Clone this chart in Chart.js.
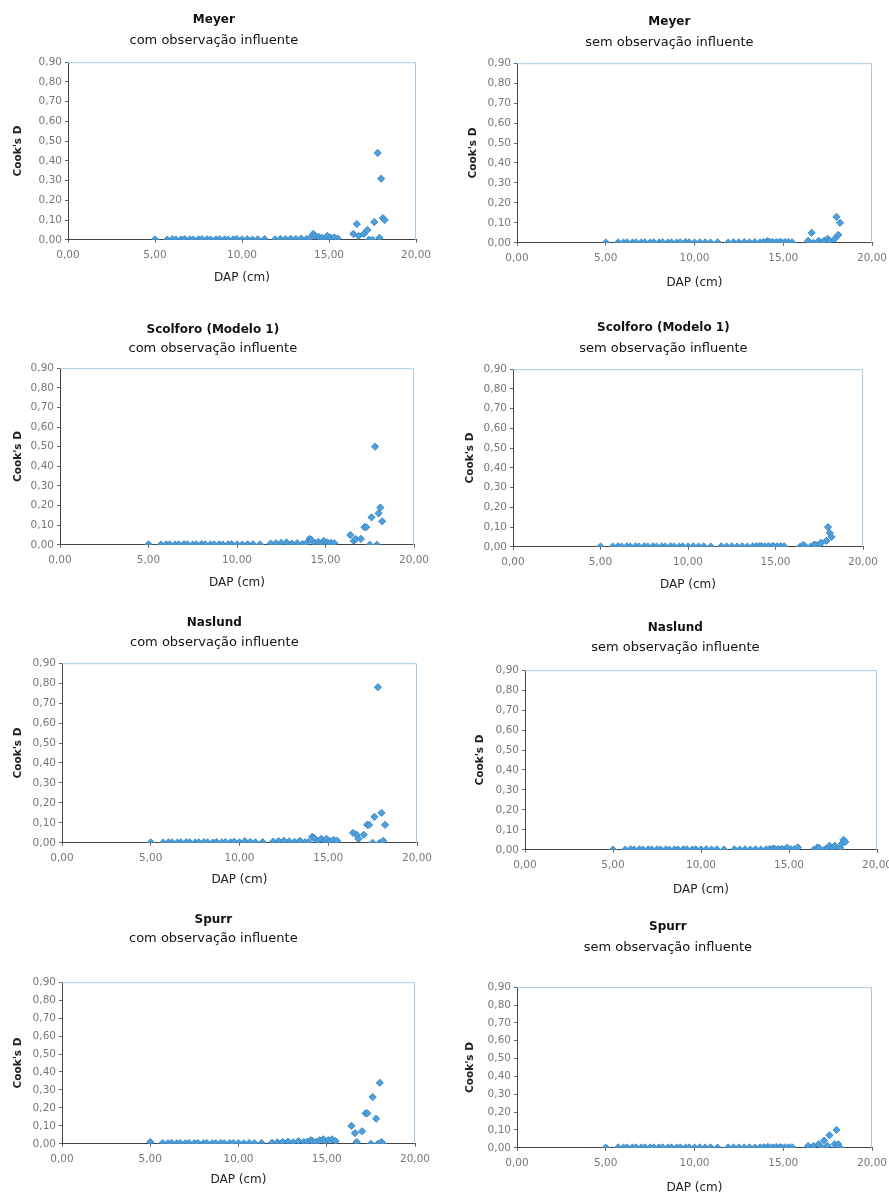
<!DOCTYPE html>
<html>
<head>
<meta charset="utf-8">
<script src="https://cdn.jsdelivr.net/npm/chart.js@4.4.1/dist/chart.umd.min.js"></script>
<style>
  body { margin: 0; background: #fff; width: 889px; height: 1194px; position: relative; overflow: hidden; }
  .panel { position: absolute; }
</style>
</head>
<body>
<div class="panel" id="p0"><canvas id="c0"></canvas></div>
<div class="panel" id="p1"><canvas id="c1"></canvas></div>
<div class="panel" id="p2"><canvas id="c2"></canvas></div>
<div class="panel" id="p3"><canvas id="c3"></canvas></div>
<div class="panel" id="p4"><canvas id="c4"></canvas></div>
<div class="panel" id="p5"><canvas id="c5"></canvas></div>
<div class="panel" id="p6"><canvas id="c6"></canvas></div>
<div class="panel" id="p7"><canvas id="c7"></canvas></div>
<script>
// panel headings
const models = ['Meyer', 'Meyer', 'Scolforo (Modelo 1)', 'Scolforo (Modelo 1)', 'Naslund', 'Naslund', 'Spurr', 'Spurr'];
const subtitles = ['com observação influente', 'sem observação influente', 'com observação influente', 'sem observação influente',
                   'com observação influente', 'sem observação influente', 'com observação influente', 'sem observação influente'];

// tick labels
const xTicks = [0, 5, 10, 15, 20];
const xTickLabels = ['0,00', '5,00', '10,00', '15,00', '20,00'];
const yTickLabels = ['0,00', '0,10', '0,20', '0,30', '0,40', '0,50', '0,60', '0,70', '0,80', '0,90'];

// DAP (cm) of the trees: main body and the large-diameter tail
const bodyDap = [5.0, 5.7, 6.0, 6.2, 6.5, 6.7, 7.0, 7.2, 7.5, 7.7, 8.0, 8.2, 8.5, 8.7, 9.0, 9.2, 9.5, 9.7, 10.0, 10.3,
                 10.6, 10.9, 11.3, 11.9, 12.2, 12.5, 12.8, 13.1, 13.4, 13.7, 13.9, 14.1, 14.2, 14.4, 14.6, 14.8, 14.9, 15.1, 15.3, 15.5];
const tailDap = [16.4, 16.6, 16.7, 17.0, 17.2, 17.3, 17.5, 17.6, 17.8, 17.9, 18.0, 18.1, 18.2];

// Cook's D per model (null = influential observation removed)
const meyerComBody = [0.002, 0.001, 0.002, 0.001, 0.002, 0.003, 0.002, 0.001, 0.002, 0.003, 0.002, 0.001, 0.002, 0.003, 0.002, 0.001, 0.002, 0.004, 0.002, 0.003,
                      0.001, 0.002, 0.003, 0.002, 0.004, 0.003, 0.005, 0.004, 0.006, 0.003, 0.008, 0.030, 0.020, 0.015, 0.010, 0.005, 0.020, 0.010, 0.012, 0.006];
const meyerComTail = [0.03, 0.08, 0.02, 0.03, 0.05, 0.00, 0.00, 0.09, 0.44, 0.01, 0.31, 0.11, 0.10];
const meyerSemBody = [0.001, 0.002, 0.001, 0.002, 0.001, 0.002, 0.001, 0.002, 0.001, 0.002, 0.001, 0.002, 0.001, 0.002, 0.001, 0.002, 0.003, 0.002, 0.001, 0.002,
                      0.002, 0.001, 0.002, 0.001, 0.002, 0.002, 0.003, 0.002, 0.003, 0.002, 0.004, 0.008, 0.006, 0.004, 0.003, 0.005, 0.002, 0.004, 0.003, 0.002];
const meyerSemTail = [0.01, 0.05, 0.00, 0.01, 0.00, 0.01, 0.02, 0.01, null, 0.02, 0.13, 0.04, 0.10];
const scolComBody = [0.002, 0.001, 0.002, 0.002, 0.001, 0.002, 0.003, 0.002, 0.001, 0.002, 0.003, 0.002, 0.001, 0.002, 0.002, 0.001, 0.002, 0.003, 0.002, 0.001,
                     0.002, 0.003, 0.002, 0.006, 0.008, 0.010, 0.012, 0.006, 0.008, 0.004, 0.006, 0.030, 0.025, 0.010, 0.015, 0.008, 0.020, 0.012, 0.010, 0.008];
const scolComTail = [0.05, 0.02, 0.03, 0.03, 0.09, 0.09, 0.00, 0.14, 0.50, 0.00, 0.16, 0.19, 0.12];
const scolSemBody = [0.001, 0.001, 0.002, 0.001, 0.002, 0.001, 0.002, 0.001, 0.002, 0.001, 0.002, 0.001, 0.002, 0.001, 0.002, 0.002, 0.001, 0.002, 0.001, 0.002,
                     0.001, 0.002, 0.001, 0.002, 0.001, 0.002, 0.001, 0.002, 0.001, 0.002, 0.003, 0.004, 0.003, 0.002, 0.003, 0.002, 0.003, 0.002, 0.003, 0.002];
const scolSemTail = [0.00, 0.01, 0.00, 0.00, 0.01, 0.01, 0.01, 0.02, null, 0.03, 0.10, 0.07, 0.05];
const naslComBody = [0.002, 0.001, 0.002, 0.002, 0.001, 0.002, 0.003, 0.002, 0.001, 0.002, 0.003, 0.002, 0.001, 0.004, 0.002, 0.003, 0.002, 0.005, 0.002, 0.008,
                     0.004, 0.002, 0.003, 0.006, 0.008, 0.010, 0.007, 0.005, 0.010, 0.003, 0.004, 0.030, 0.025, 0.010, 0.020, 0.010, 0.020, 0.008, 0.015, 0.010];
const naslComTail = [0.05, 0.04, 0.02, 0.04, 0.09, 0.09, 0.00, 0.13, 0.78, 0.00, 0.15, 0.01, 0.09];
const naslSemBody = [0.001, 0.001, 0.002, 0.001, 0.002, 0.001, 0.002, 0.001, 0.002, 0.001, 0.002, 0.001, 0.002, 0.001, 0.002, 0.002, 0.001, 0.002, 0.001, 0.002,
                     0.001, 0.002, 0.001, 0.002, 0.001, 0.002, 0.001, 0.002, 0.001, 0.002, 0.003, 0.006, 0.004, 0.003, 0.005, 0.004, 0.010, 0.003, 0.002, 0.012];
const naslSemTail = [0.00, 0.01, 0.01, 0.00, 0.01, 0.02, 0.01, 0.02, null, 0.01, 0.03, 0.05, 0.04];
const spurComBody = [0.010, 0.004, 0.003, 0.004, 0.003, 0.004, 0.003, 0.004, 0.003, 0.004, 0.003, 0.004, 0.003, 0.003, 0.004, 0.003, 0.003, 0.004, 0.003, 0.003,
                     0.004, 0.003, 0.004, 0.006, 0.008, 0.010, 0.012, 0.008, 0.015, 0.010, 0.012, 0.020, 0.015, 0.010, 0.020, 0.025, 0.015, 0.020, 0.025, 0.015];
const spurComTail = [0.10, 0.06, 0.01, 0.07, 0.17, 0.17, 0.00, 0.26, 0.14, 0.00, 0.34, 0.01, 0.00];
const spurSemBody = [0.001, 0.002, 0.001, 0.002, 0.001, 0.002, 0.001, 0.002, 0.001, 0.002, 0.001, 0.002, 0.001, 0.002, 0.001, 0.002, 0.001, 0.002, 0.001, 0.002,
                     0.001, 0.002, 0.001, 0.002, 0.001, 0.002, 0.001, 0.002, 0.001, 0.002, 0.003, 0.004, 0.003, 0.002, 0.004, 0.003, 0.002, 0.003, 0.002, 0.003];
const spurSemTail = [0.01, 0.00, 0.01, 0.02, 0.00, 0.04, 0.01, 0.07, null, 0.02, 0.10, 0.02, 0.00];

const bodies = [meyerComBody, meyerSemBody, scolComBody, scolSemBody, naslComBody, naslSemBody, spurComBody, spurSemBody];
const tails = [meyerComTail, meyerSemTail, scolComTail, scolSemTail, naslComTail, naslSemTail, spurComTail, spurSemTail];

// page layout of each panel (pixels): column start, title/subtitle centres,
// plot-area edges, x-title centre and y-title centre
const layouts = [
  { col: 0,   w: 440, titleY: 20,  subY: 40,  l: 68,  t: 62,  r: 416, b: 240,  xTitleY: 278,  yTitleX: 18 },
  { col: 445, w: 460, titleY: 22,  subY: 42,  l: 517, t: 63,  r: 872, b: 243,  xTitleY: 283,  yTitleX: 473 },
  { col: 0,   w: 440, titleY: 330, subY: 348, l: 60,  t: 368, r: 414, b: 545,  xTitleY: 583,  yTitleX: 18 },
  { col: 445, w: 460, titleY: 328, subY: 348, l: 513, t: 369, r: 863, b: 547,  xTitleY: 585,  yTitleX: 470 },
  { col: 0,   w: 440, titleY: 623, subY: 642, l: 62,  t: 663, r: 417, b: 843,  xTitleY: 880,  yTitleX: 18 },
  { col: 445, w: 460, titleY: 628, subY: 647, l: 525, t: 670, r: 877, b: 850,  xTitleY: 890,  yTitleX: 480 },
  { col: 0,   w: 440, titleY: 920, subY: 938, l: 62,  t: 982, r: 415, b: 1144, xTitleY: 1180, yTitleX: 18 },
  { col: 445, w: 460, titleY: 927, subY: 947, l: 517, t: 987, r: 872, b: 1148, xTitleY: 1188, yTitleX: 470 }
];

const FONT = '"DejaVu Sans", "Liberation Sans", Arial, sans-serif';
const TITLE_SIZE = 12, SUB_SIZE = 13, AXIS_TITLE_SIZE = 12, YTITLE_SIZE = 10.5;

const framePlugin = {
  id: 'frame',
  beforeDatasetsDraw(chart) {
    const a = chart.chartArea, ctx = chart.ctx;
    ctx.save();
    ctx.strokeStyle = '#a9c9e2';
    ctx.lineWidth = 1;
    ctx.beginPath();
    ctx.moveTo(a.left, a.top + 0.5);
    ctx.lineTo(a.right - 0.5, a.top + 0.5);
    ctx.lineTo(a.right - 0.5, a.bottom);
    ctx.stroke();
    ctx.restore();
  }
};

function makePoints(i) {
  const pts = [];
  bodyDap.forEach((x, k) => pts.push({ x: x, y: bodies[i][k] }));
  tailDap.forEach((x, k) => { if (tails[i][k] !== null) pts.push({ x: x, y: tails[i][k] }); });
  return pts;
}

for (let i = 0; i < 8; i++) {
  const L = layouts[i];
  const titleLH = TITLE_SIZE * 1.2, subLH = SUB_SIZE * 1.2;
  const xTitleLH = AXIS_TITLE_SIZE * 1.2, yTitleLH = YTITLE_SIZE * 1.2;
  const top = Math.round(L.titleY - titleLH / 2);
  const yAxisW = L.l - (L.yTitleX - yTitleLH / 2);
  const xAxisH = L.xTitleY - L.b + xTitleLH / 2;
  const height = Math.round(L.b + xAxisH + 2 - top);

  const wrap = document.getElementById('p' + i);
  wrap.style.left = L.col + 'px';
  wrap.style.top = top + 'px';
  const cv = document.getElementById('c' + i);
  cv.width = L.w;
  cv.height = height;

  new Chart(cv.getContext('2d'), {
    type: 'scatter',
    data: {
      datasets: [{
        data: makePoints(i),
        pointStyle: 'rectRot',
        pointRadius: 3.6,
        backgroundColor: '#4f9fda',
        borderColor: '#3a8bcb',
        borderWidth: 1
      }]
    },
    options: {
      responsive: false,
      animation: false,
      layout: {
        padding: {
          top: 0,
          bottom: 2,
          left: L.l - yAxisW - L.col,
          right: L.col + L.w - L.r
        }
      },
      plugins: {
        legend: { display: false },
        tooltip: { enabled: false },
        title: {
          display: true,
          text: models[i],
          color: '#111',
          font: { family: FONT, size: TITLE_SIZE, weight: 'bold' },
          padding: { top: 0, bottom: Math.max(0, (L.subY - subLH / 2) - (L.titleY + titleLH / 2)) }
        },
        subtitle: {
          display: true,
          text: subtitles[i],
          color: '#111',
          font: { family: FONT, size: SUB_SIZE },
          padding: { top: 0, bottom: L.t - (L.subY + subLH / 2) }
        }
      },
      scales: {
        x: {
          type: 'linear',
          min: 0,
          max: 20,
          afterFit: s => { s.height = xAxisH; },
          ticks: {
            stepSize: 5,
            color: '#777',
            font: { family: FONT, size: 10.5 },
            padding: 6,
            maxRotation: 0,
            callback: v => xTickLabels[xTicks.indexOf(v)]
          },
          grid: { drawOnChartArea: false, color: '#666', tickLength: 3 },
          border: { color: '#444', width: 1 },
          title: {
            display: true,
            text: 'DAP (cm)',
            color: '#222',
            font: { family: FONT, size: AXIS_TITLE_SIZE },
            padding: { top: 0, bottom: 0 }
          }
        },
        y: {
          min: 0,
          max: 0.9,
          afterFit: s => { s.width = yAxisW; },
          ticks: {
            stepSize: 0.1,
            color: '#777',
            font: { family: FONT, size: 10.5 },
            padding: 3,
            callback: v => yTickLabels[Math.round(v * 10)]
          },
          grid: { drawOnChartArea: false, color: '#666', tickLength: 3 },
          border: { color: '#444', width: 1 },
          title: {
            display: true,
            text: "Cook's D",
            color: '#222',
            font: { family: FONT, size: YTITLE_SIZE, weight: 'bold' },
            padding: { top: 0, bottom: 0 }
          }
        }
      }
    },
    plugins: [framePlugin]
  });
}
</script>
</body>
</html>
